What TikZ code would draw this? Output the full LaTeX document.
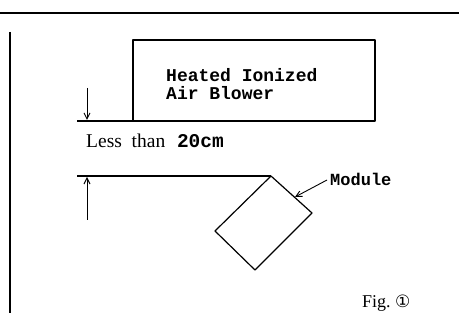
\documentclass[tikz,border=0pt]{standalone}
\usepackage{fontspec}
\setmainfont{Liberation Serif}
\newfontfamily\monob{Liberation Mono}
\newfontfamily\dejavu{DejaVu Sans}
\usetikzlibrary{arrows.meta}
\begin{document}
\begin{tikzpicture}[x=1pt,y=-1pt,
  line/.style={line width=1.2pt, line join=round},
  dimarrow/.style={line width=1pt,-{Straight Barb[length=6pt,width=6pt]}},
  mono/.style={font=\monob\bfseries\fontsize{18}{20}\selectfont, inner sep=0pt, anchor=base west}]
\useasboundingbox (0,0) rectangle (459,321);
% frame lines
\coordinate (tl) at (0,13);
\coordinate (tr) at (459,13);
\draw[line width=2pt] (tl) -- (tr);
\coordinate (lt) at (10,32);
\coordinate (lb) at (10,313);
\draw[line width=1.6pt] (lt) -- (lb);
% blower
\coordinate (b1) at (133,121);
\coordinate (b2) at (133,40);
\coordinate (b3) at (375,40);
\coordinate (b4) at (375,121);
\coordinate (bl) at (77,121);
\draw[line] (bl) -- (b1) -- (b2) -- (b3) -- (b4) -- (b1);
\node[mono] (t1) at (166,82) {Heated Ionized};
\node[mono] (t2) at (166,100) {Air Blower};
% dimension
\coordinate (a1s) at (87,88);
\coordinate (a1e) at (87,120);
\draw[dimarrow] (a1s) -- (a1e);
\node[inner sep=0pt, anchor=base west, font=\fontsize{19.5}{22}\selectfont] (less) at (86,148) {Less\ \ than\ \ \hspace{2pt}{\monob\bfseries\fontsize{19.5}{22}\selectfont 20cm}};
\coordinate (ll) at (77,176);
\coordinate (a2s) at (87,220);
\coordinate (a2e) at (87,177);
\draw[dimarrow] (a2s) -- (a2e);
% module
\coordinate (m1) at (271,176);
\coordinate (m2) at (312,213);
\coordinate (m3) at (255,270);
\coordinate (m4) at (215,231);
\draw[line] (ll) -- (m1);
\draw[line] (m1) -- (m2) -- (m3) -- (m4) -- cycle;
\node[mono, font=\monob\bfseries\fontsize{17}{20}\selectfont] (mod) at (330,186) {Module};
\coordinate (ms) at (327,180);
\coordinate (mt) at (295,197);
\draw[line width=0.9pt,-{Straight Barb[length=6pt,width=6pt]}] (ms) -- (mt);
\node[inner sep=0pt, anchor=base west, font=\fontsize{18}{20}\selectfont] (fig) at (362,308) {Fig.\ {\dejavu\fontsize{17}{18}\selectfont ①}};
\end{tikzpicture}
\end{document}
